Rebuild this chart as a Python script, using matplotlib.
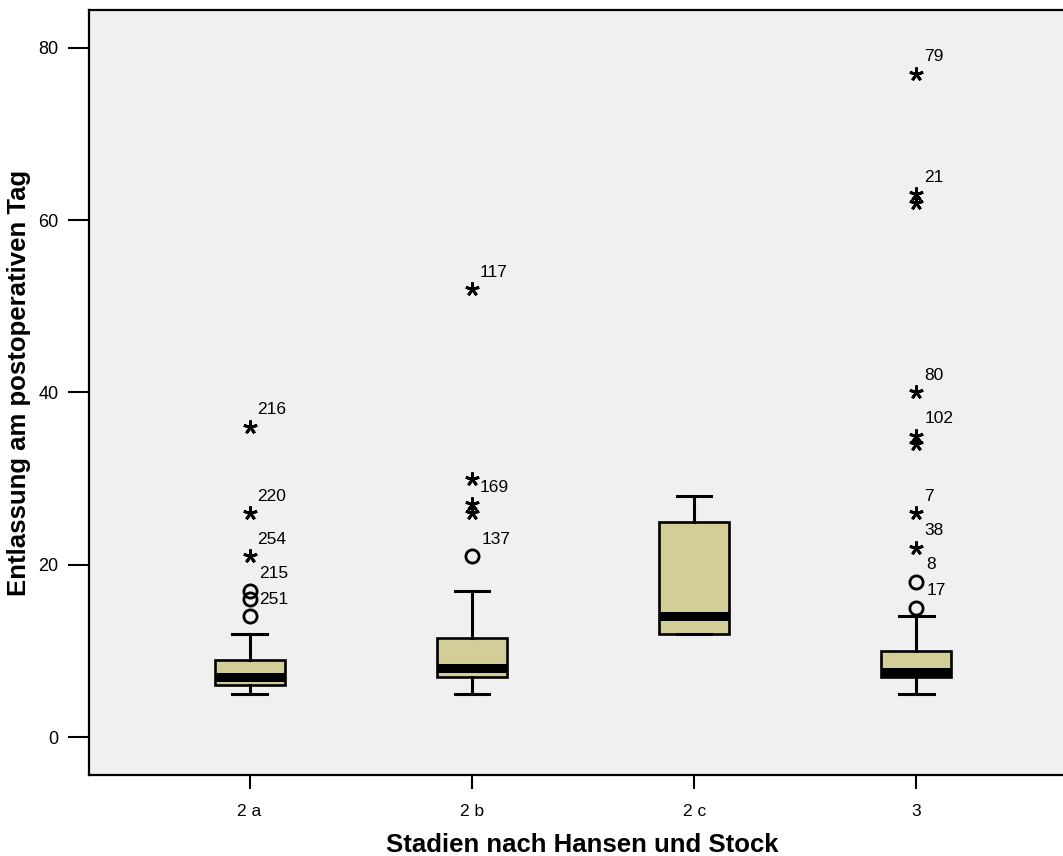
import matplotlib
matplotlib.use("Agg")
import matplotlib.pyplot as plt

plt.rcParams["font.family"] = ["Liberation Sans", "DejaVu Sans"]

# data
categories = ["2 a", "2 b", "2 c", "3"]
q1 = [6, 7, 12, 7]
medians = [7, 8, 14, 7.5]
q3 = [9, 11.5, 25, 10]
whisker_lo = [5, 5, 12, 5]
whisker_hi = [12, 17, 28, 14]

# outliers (circles) and extreme values (stars) with their case labels
outlier_vals = [[17, 16, 14], [21], [], [18, 15]]
outlier_labels = [["215", "", "251"], ["137"], [], ["8", "17"]]
extreme_vals = [[36, 26, 21], [52, 30, 27, 26], [], [77, 63, 62, 40, 35, 34, 26, 22]]
extreme_labels = [["216", "220", "254"], ["117", "", "169", ""], [],
                  ["79", "21", "", "80", "102", "", "7", "38"]]

y_ticks = [0, 20, 40, 60, 80]

fig = plt.figure(figsize=(10.63, 8.56), dpi=100)
ax = fig.add_axes([89 / 1063, 81 / 856, (1077 - 89) / 1063, (775 - 10) / 856])
ax.set_facecolor("#F0F0F0")

positions = list(range(1, len(categories) + 1))
stats = []
for i in range(len(categories)):
    stats.append({"med": medians[i], "q1": q1[i], "q3": q3[i],
                  "whislo": whisker_lo[i], "whishi": whisker_hi[i], "fliers": []})

ax.bxp(stats, positions=positions, widths=0.315, capwidths=0.155,
       showfliers=False, patch_artist=True,
       boxprops=dict(facecolor="#D3CE98", edgecolor="black", linewidth=1.9),
       medianprops=dict(color="black", linewidth=6.5, solid_capstyle="butt"),
       whiskerprops=dict(color="black", linewidth=2.2),
       capprops=dict(color="black", linewidth=2.2))

for i, pos in enumerate(positions):
    if outlier_vals[i]:
        ax.plot([pos] * len(outlier_vals[i]), outlier_vals[i], linestyle="none",
                marker="o", markersize=9.5, markerfacecolor="none",
                markeredgecolor="black", markeredgewidth=2, zorder=5)
    for v, lab in zip(outlier_vals[i], outlier_labels[i]):
        if lab:
            ax.annotate(lab, (pos, v), xytext=(10, 17), textcoords="offset pixels",
                        ha="left", va="center", fontsize=12.5)
    if extreme_vals[i]:
        ax.plot([pos] * len(extreme_vals[i]), extreme_vals[i], linestyle="none",
                marker=(5, 2, 0), markersize=10, markeredgecolor="black",
                markeredgewidth=2, zorder=5)
    for v, lab in zip(extreme_vals[i], extreme_labels[i]):
        if lab:
            ax.annotate(lab, (pos, v), xytext=(8, 17), textcoords="offset pixels",
                        ha="left", va="center", fontsize=12.5)

ax.set_xlim(1 - 0.722, 4 + 0.722)
ax.set_ylim(-4.41, 84.41)
ax.set_xticks(positions)
ax.set_xticklabels(categories)
ax.set_yticks(y_ticks)
ax.tick_params(axis="y", direction="out", length=15, width=1.5, labelsize=13, pad=7)
ax.tick_params(axis="x", direction="out", length=10, width=1.5, labelsize=12.5, pad=11)
for side in ["left", "bottom", "top"]:
    ax.spines[side].set_linewidth(1.6)
ax.spines["right"].set_visible(False)

ax.set_xlabel("Stadien nach Hansen und Stock", fontsize=18.5, fontweight="bold")
ax.set_ylabel("Entlassung am postoperativen Tag", fontsize=18.5, fontweight="bold")
ax.xaxis.set_label_coords(0.499, -0.076)
ax.yaxis.set_label_coords(-0.059, 0.512)

fig.savefig("out.png", dpi=100, facecolor="white")
